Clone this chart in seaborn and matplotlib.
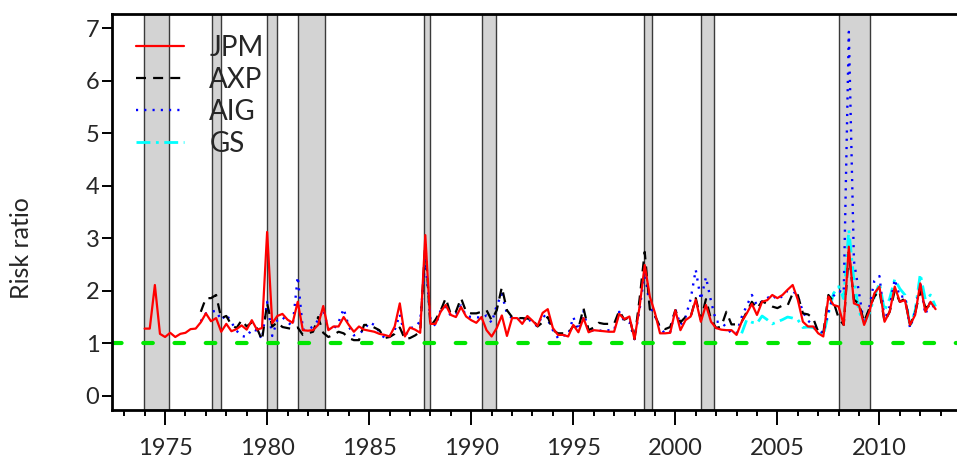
import numpy as np
import pandas as pd
import seaborn as sns
import matplotlib.pyplot as plt

# quarterly risk ratios
jpm_start = 1974.0
jpm = [1.28, 1.28, 2.11, 1.18,
       1.12, 1.20, 1.12, 1.18,
       1.20, 1.27, 1.28, 1.40,
       1.57, 1.42, 1.48, 1.22,
       1.37, 1.23, 1.27, 1.34,
       1.26, 1.44, 1.26, 1.29,
       3.12, 1.38, 1.52, 1.56,
       1.45, 1.39, 1.79, 1.25,
       1.24, 1.25, 1.35, 1.71,
       1.25, 1.32, 1.32, 1.50,
       1.35, 1.22, 1.32, 1.26,
       1.24, 1.22, 1.18, 1.16,
       1.13, 1.32, 1.76, 1.13,
       1.30, 1.26, 1.20, 3.06,
       1.37, 1.37, 1.60, 1.73,
       1.54, 1.50, 1.69, 1.51,
       1.44, 1.39, 1.50, 1.25,
       1.13, 1.29, 1.53, 1.14,
       1.48, 1.48, 1.37, 1.52,
       1.43, 1.33, 1.58, 1.65,
       1.29, 1.16, 1.16, 1.13,
       1.35, 1.21, 1.48, 1.21,
       1.25, 1.24, 1.23, 1.22,
       1.22, 1.56, 1.46, 1.51,
       1.08, 1.70, 2.49, 1.89,
       1.58, 1.19, 1.19, 1.20,
       1.63, 1.25, 1.44, 1.51,
       1.83, 1.41, 1.73, 1.41,
       1.29, 1.26, 1.25, 1.25,
       1.16, 1.41, 1.57, 1.75,
       1.54, 1.79, 1.82, 1.92,
       1.86, 1.92, 2.02, 2.11,
       1.83, 1.41, 1.32, 1.32,
       1.19, 1.13, 1.89, 1.73,
       1.70, 1.35, 2.84, 1.76,
       1.72, 1.35, 1.60, 1.95,
       2.08, 1.41, 1.60, 2.08,
       1.79, 1.82, 1.35, 1.54,
       2.14, 1.60, 1.79, 1.65]

axp_start = 1976.75
axp = [1.60,
       1.86, 1.86, 1.92, 1.48,
       1.52, 1.35, 1.29, 1.44,
       1.32, 1.40, 1.29, 1.06,
       1.76, 1.32, 1.40, 1.31,
       1.29, 1.27, 1.30, 1.16,
       1.19, 1.22, 1.50, 1.20,
       1.12, 1.16, 1.22, 1.19,
       1.10, 1.06, 1.06, 1.35,
       1.35, 1.30, 1.25, 1.10,
       1.12, 1.18, 1.30, 1.08,
       1.10, 1.15, 1.22, 2.90,
       1.32, 1.45, 1.62, 1.86,
       1.55, 1.60, 1.86, 1.60,
       1.57, 1.57, 1.60, 1.63,
       1.44, 1.63, 2.07, 1.63,
       1.50, 1.48, 1.48, 1.47,
       1.46, 1.32, 1.40, 1.50,
       1.25, 1.19, 1.19, 1.19,
       1.33, 1.28, 1.67, 1.25,
       1.30, 1.39, 1.37, 1.37,
       1.37, 1.62, 1.45, 1.50,
       1.08, 1.85, 2.74, 1.65,
       1.53, 1.31, 1.27, 1.31,
       1.63, 1.40, 1.50, 1.50,
       1.86, 1.45, 1.84, 1.45,
       1.29, 1.32, 1.60, 1.36,
       1.36, 1.41, 1.60, 1.79,
       1.66, 1.80, 1.75, 1.70,
       1.67, 1.72, 1.72, 1.95,
       1.92, 1.57, 1.55, 1.48,
       1.22, 1.19, 1.92, 1.79,
       1.48, 1.35, 2.74, 1.83,
       1.75, 1.41, 1.66, 1.89,
       2.00, 1.41, 1.60, 2.00,
       1.79, 1.85, 1.35, 1.58,
       2.00, 1.68, 1.72, 1.67]

aig_start = 1976.75
aig = [1.42,
       1.57, 1.60, 1.62, 1.44,
       1.55, 1.40, 1.24, 1.14,
       1.12, 1.27, 1.24, 1.08,
       1.79, 1.14, 1.44, 1.50,
       1.40, 1.33, 2.27, 1.26,
       1.26, 1.32, 1.44, 1.64,
       1.27, 1.27, 1.40, 1.66,
       1.32, 1.15, 1.19, 1.25,
       1.40, 1.35, 1.22, 1.10,
       1.13, 1.25, 1.55, 1.13,
       1.29, 1.31, 1.42, 2.60,
       1.45, 1.33, 1.63, 1.70,
       1.52, 1.55, 1.72, 1.52,
       1.50, 1.50, 1.48, 1.53,
       1.39, 1.72, 1.94, 1.57,
       1.48, 1.48, 1.40, 1.50,
       1.37, 1.33, 1.55, 1.45,
       1.25, 1.10, 1.15, 1.15,
       1.50, 1.25, 1.62, 1.22,
       1.25, 1.25, 1.22, 1.25,
       1.25, 1.60, 1.42, 1.40,
       1.08, 1.65, 2.36, 1.70,
       1.52, 1.30, 1.18, 1.22,
       1.65, 1.35, 1.50, 1.84,
       2.40, 1.83, 2.26, 1.80,
       1.41, 1.41, 1.30, 1.19,
       1.19, 1.50, 1.72, 1.92,
       1.72, 1.80, 1.86, 1.92,
       1.83, 1.90, 2.00, 2.00,
       1.90, 1.60, 1.43, 1.35,
       1.27, 1.19, 1.60, 1.90,
       2.00, 1.96, 6.93, 2.57,
       1.96, 1.35, 1.68, 2.19,
       2.28, 1.44, 1.70, 2.22,
       1.88, 1.90, 1.29, 1.60,
       2.14, 1.55, 1.80, 1.63]

gs_start = 2003.25
gs = [1.19, 1.45, 1.40,
      1.38, 1.52, 1.45, 1.37,
      1.41, 1.45, 1.50, 1.48,
      1.45, 1.30, 1.31, 1.30,
      1.23, 1.15, 1.57, 1.95,
      2.08, 1.85, 3.16, 2.20,
      1.60, 1.40, 1.57, 1.88,
      2.15, 1.62, 1.85, 2.22,
      2.04, 1.92, 1.32, 1.62,
      2.32, 1.83, 1.92, 1.70]

# shaded crisis / recession periods (decimal years)
recessions = [(1973.97, 1975.17), (1977.31, 1977.72), (1980.0, 1980.5),
              (1981.5, 1982.85), (1987.70, 1987.96), (1990.53, 1991.22),
              (1998.47, 1998.88), (2001.24, 2001.90), (2008.0, 2009.53)]


def to_frame(start, values):
    return pd.DataFrame({'year': start + np.arange(len(values)) / 4.0,
                         'ratio': values})


sns.set_style('ticks')
plt.rcParams['font.family'] = ['Lato', 'DejaVu Sans']

fig = plt.figure(figsize=(9.57, 4.59), dpi=100)
ax = fig.add_axes([112 / 957, 1 - 410 / 459, (957 - 112) / 957, (410 - 14) / 459])

for a, b in recessions:
    ax.axvspan(a, b, facecolor='#d3d3d3', edgecolor='#3a3a3a', lw=1.0, zorder=0)

ax.axhline(1, color='#00e600', lw=3, dashes=(2.3, 5.2),
           dash_capstyle='round', zorder=1)

sns.lineplot(data=to_frame(gs_start, gs), x='year', y='ratio', ax=ax,
             color='cyan', lw=2, label='GS', estimator=None, zorder=2)
ax.lines[-1].set_dashes((5, 2, 1, 2))
sns.lineplot(data=to_frame(aig_start, aig), x='year', y='ratio', ax=ax,
             color='blue', lw=1.7, label='AIG', estimator=None, zorder=3)
ax.lines[-1].set_dashes((0.9, 2.6))
sns.lineplot(data=to_frame(axp_start, axp), x='year', y='ratio', ax=ax,
             color='black', lw=1.6, label='AXP', estimator=None, zorder=3)
ax.lines[-1].set_dashes((4.5, 3.2))
sns.lineplot(data=to_frame(jpm_start, jpm), x='year', y='ratio', ax=ax,
             color='red', lw=1.6, label='JPM', estimator=None, zorder=4)

handles = {l.get_label(): l for l in ax.get_lines()}
order = ['JPM', 'AXP', 'AIG', 'GS']
ax.legend([handles[k] for k in order], order, loc='upper left',
          bbox_to_anchor=(0.028, 0.948), frameon=False, fontsize=20,
          handlelength=1.75, handletextpad=0.9, labelspacing=0.22,
          borderpad=0, borderaxespad=0)

ax.set_xlim(1972.4, 2013.8)
ax.set_ylim(-0.27, 7.27)
ax.set_xticks(range(1975, 2011, 5))
ax.set_xticks(range(1973, 2014), minor=True)
ax.set_yticks(range(0, 8))
ax.set_xlabel('')
ax.set_ylabel('Risk ratio', fontsize=18)
ax.yaxis.set_label_coords(-0.094, 0.41)

for side in ['left', 'bottom', 'top']:
    ax.spines[side].set_linewidth(2)
    ax.spines[side].set_color('black')
ax.spines['right'].set_visible(False)

ax.tick_params(axis='x', which='major', length=11, width=1.4, labelsize=17,
               pad=9, color='black')
ax.tick_params(axis='x', which='minor', length=4.5, width=1.4, color='black')
ax.tick_params(axis='y', which='major', length=7, width=1.4, labelsize=17,
               pad=2, color='black')

fig.savefig('out.png', dpi=100)
